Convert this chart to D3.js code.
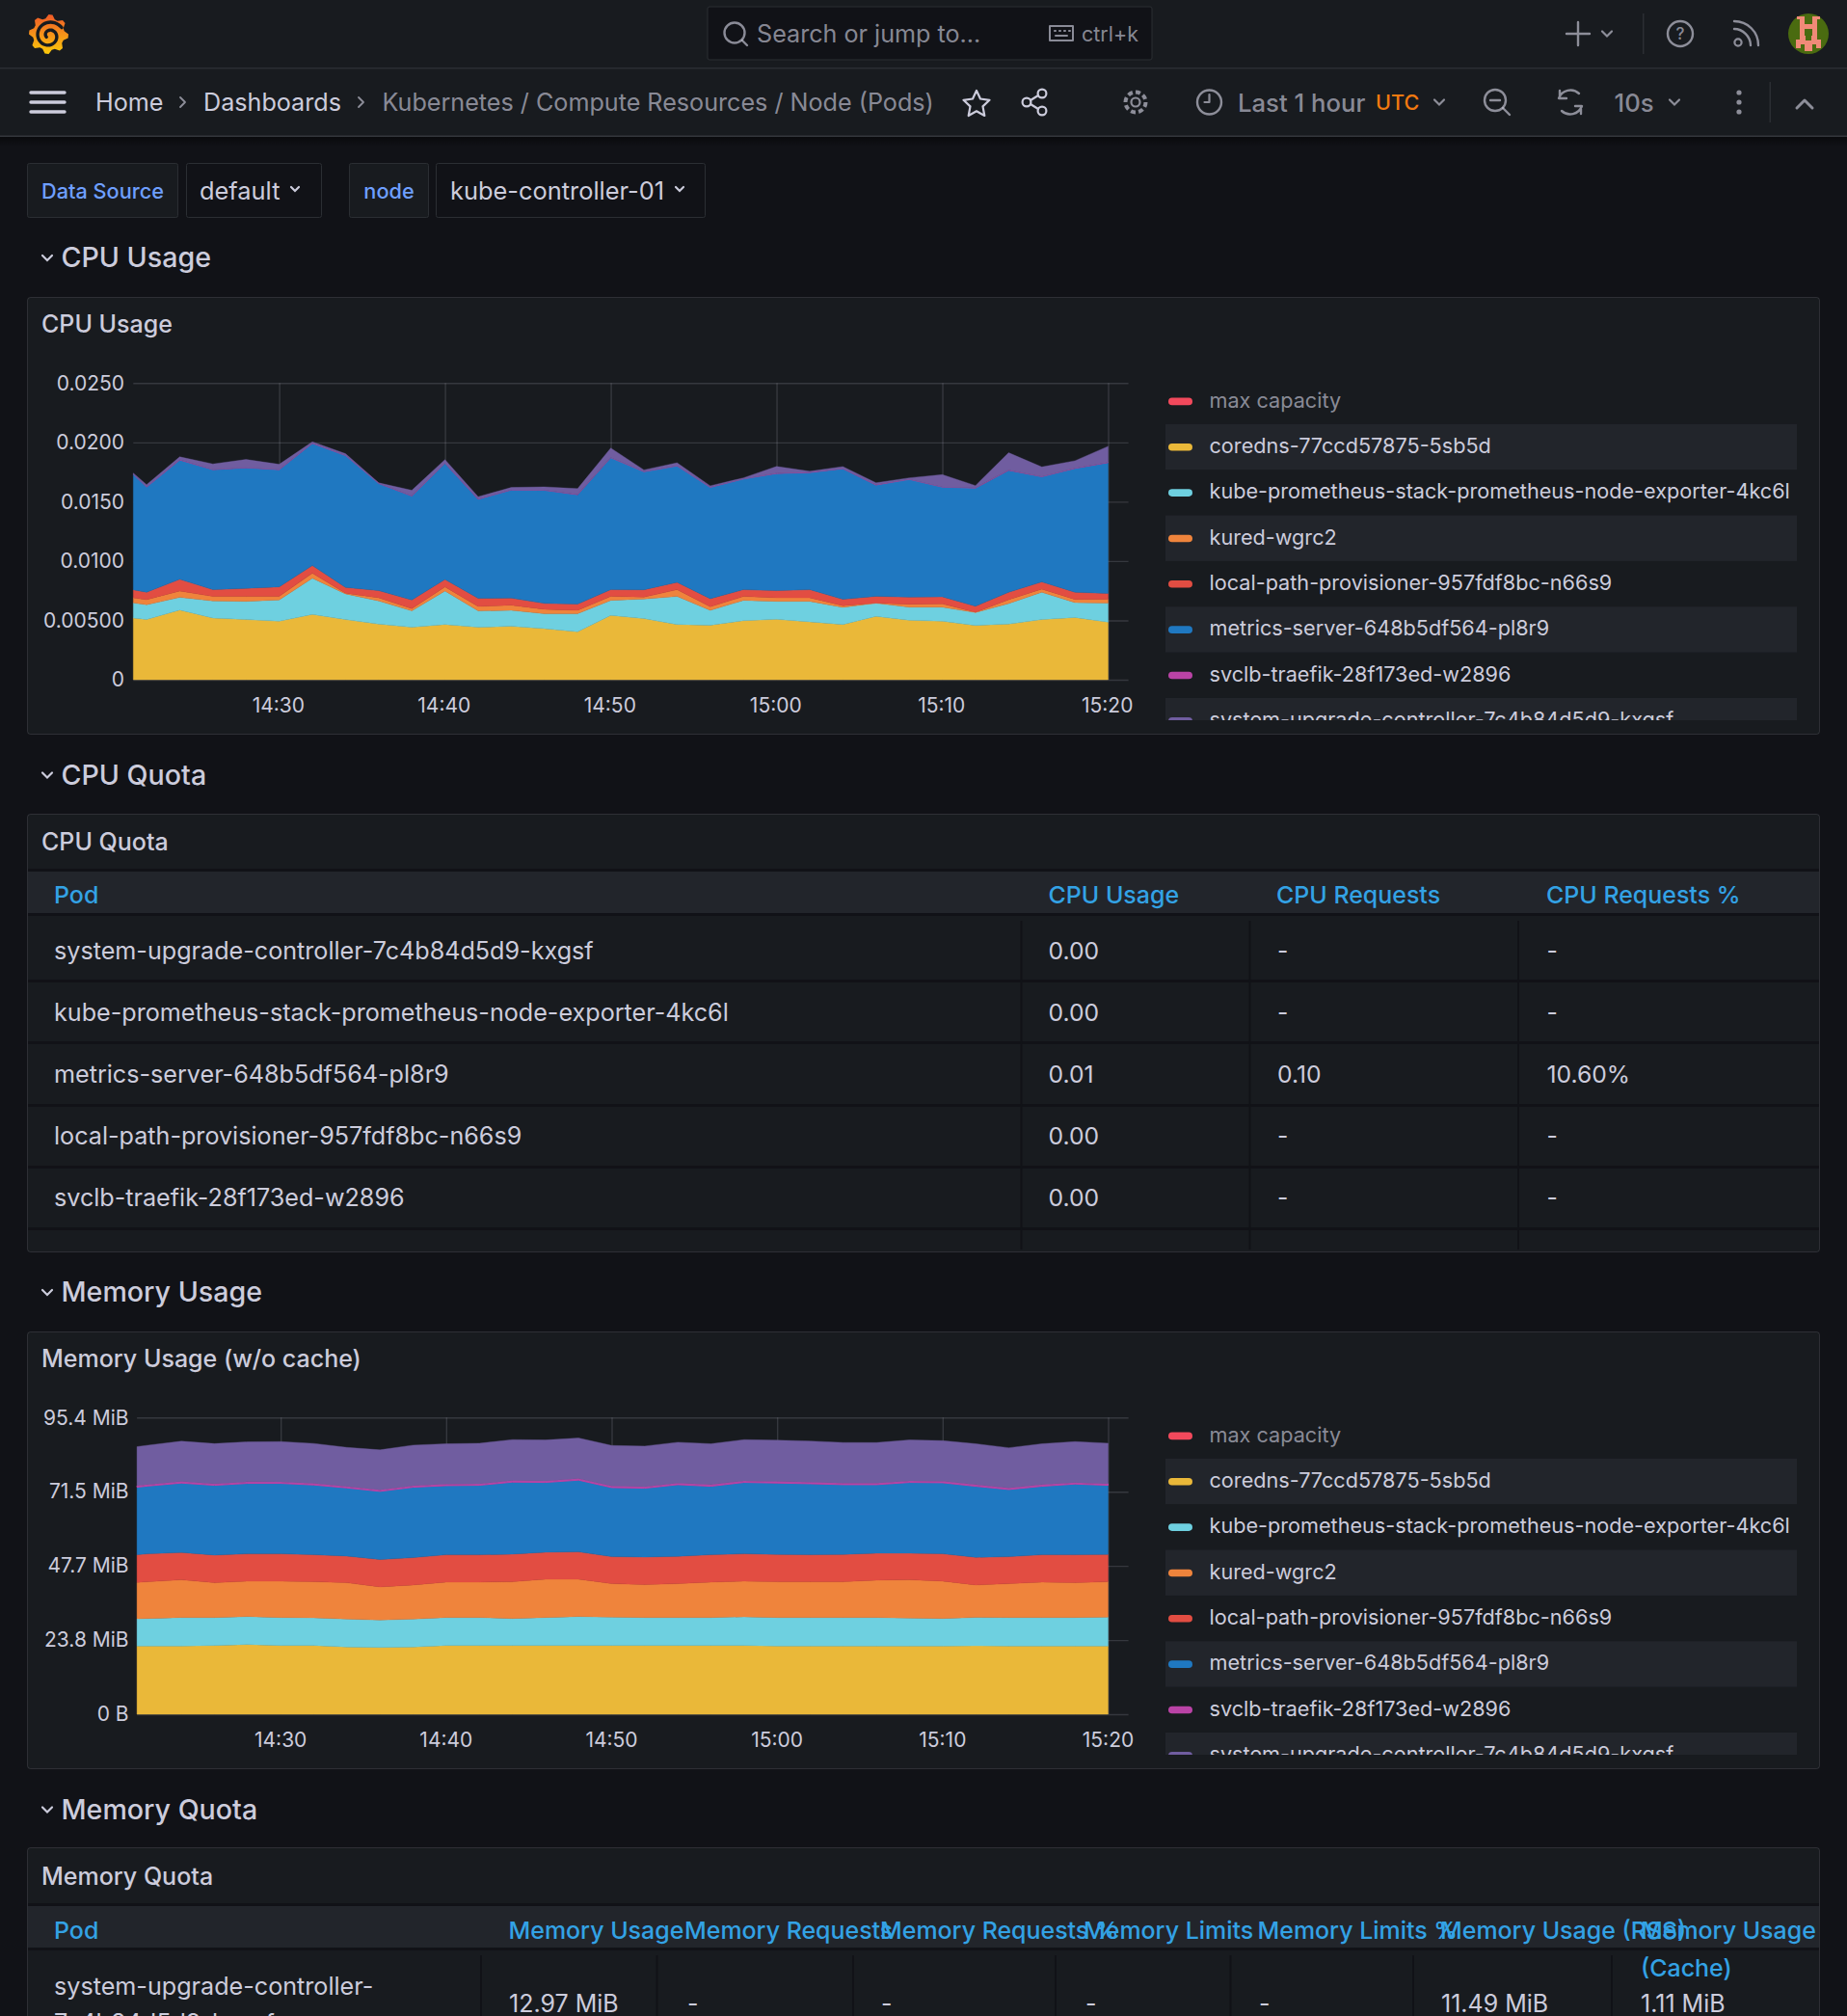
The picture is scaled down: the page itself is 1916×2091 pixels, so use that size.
<!DOCTYPE html>
<html>
<head>
<meta charset="utf-8">
<title>Kubernetes / Compute Resources / Node (Pods)</title>
<script src="https://cdn.jsdelivr.net/npm/d3@7"></script>
<style>
  html, body { margin: 0; padding: 0; background: #111217; overflow: hidden; }
  svg { display: block; font-family: Inter, "Noto Sans", sans-serif; }
</style>
</head>
<body>
<svg id="page"></svg>
<script>
// ---- data ----
var legendNames = ["max capacity", "coredns-77ccd57875-5sb5d", "kube-prometheus-stack-prometheus-node-exporter-4kc6l",
    "kured-wgrc2", "local-path-provisioner-957fdf8bc-n66s9", "metrics-server-648b5df564-pl8r9",
    "svclb-traefik-28f173ed-w2896", "system-upgrade-controller-7c4b84d5d9-kxgsf"];
var legendColors = ["#f2495c", "#eab839", "#6ed0e0", "#ef843c", "#e24d42", "#1f78c1", "#ba43a6", "#705da0"];

var sharedTimes = ["14:22:00", "14:24:00", "14:26:00", "14:28:00", "14:30:00", "14:32:00", "14:34:00", "14:36:00",
    "14:38:00", "14:40:00", "14:42:00", "14:44:00", "14:46:00", "14:48:00", "14:50:00", "14:52:00", "14:54:00",
    "14:56:00", "14:58:00", "15:00:00", "15:02:00", "15:04:00", "15:06:00", "15:08:00", "15:10:00", "15:12:00",
    "15:14:00", "15:16:00", "15:18:00", "15:20:00"];
var cpuStart = "14:21:12";
var memStart = "14:21:19";
var xTickTimes = ["14:30:00", "14:40:00", "14:50:00", "15:00:00", "15:10:00", "15:20:00"];

var cpuCoredns = [.00520,.00507,.00588,.00520,.00507,.00493,.00550,.00507,.00469,.00442,.00466,.00442,.00450,.00431,.00404,.00542,.00515,.00466,.00460,.00498,.00509,.00488,.00466,.00534,.00501,.00493,.00458,.00469,.00507,.00525,.00485];
var cpuExporter = [.00127,.00125,.00106,.00144,.00154,.00179,.00306,.00217,.00195,.00138,.00282,.00138,.00135,.00125,.00152,.00127,.00165,.00236,.00125,.00171,.00152,.00173,.00144,.00111,.00111,.00119,.00108,.00173,.00230,.00125,.00160];
var cpuKured = [.00043,.00043,.00054,.00038,.00041,.00030,.00041,.00005,.00027,.00019,.00035,.00038,.00043,.00038,.00030,.00033,.00016,.00057,.00030,.00033,.00030,.00030,.00014,.00001,.00024,.00027,.00003,.00033,.00027,.00027,.00033];
var cpuLocalPath = [.00068,.00062,.00098,.00057,.00068,.00081,.00065,.00049,.00060,.00073,.00062,.00068,.00060,.00049,.00051,.00057,.00062,.00062,.00068,.00057,.00060,.00068,.00054,.00057,.00060,.00060,.00051,.00062,.00060,.00060,.00049];
var cpuMetrics = [.00972,.00886,.01005,.01010,.01016,.00986,.01029,.01111,.00902,.00875,.00978,.00834,.00910,.00953,.00921,.01111,.00994,.00980,.00937,.00932,.00986,.00986,.01100,.00937,.00991,.00924,.00994,.01027,.00886,.01043,.01102];
var cpuSvclb = [.00003,.00002,.00003,.00003,.00002,.00003,.00003,.00002,.00003,.00003,.00002,.00003,.00003,.00002,.00003,.00003,.00002,.00003,.00003,.00002,.00003,.00003,.00002,.00003,.00003,.00002,.00003,.00003,.00002,.00003,.00003];
var cpuUpgrade = [.00008,.00019,.00024,.00046,.00068,.00043,.00011,.00014,.00003,.00046,.00030,.00019,.00019,.00027,.00049,.00079,.00014,.00024,.00011,.00008,.00057,.00008,.00016,.00016,.00011,.00103,.00019,.00146,.00081,.00062,.00135];

var memCoredns = [21.91,21.91,21.91,22.12,22.43,22.12,22.12,21.60,21.50,21.60,22.12,22.12,22.12,22.12,22.12,22.12,22.12,22.12,22.12,22.12,21.91,21.91,21.91,21.91,21.91,21.91,22.02,21.91,21.91,21.91,21.91];
var memExporter = [8.79,8.89,9.20,8.99,8.99,8.99,8.89,8.99,8.79,8.99,8.99,8.99,8.68,8.99,9.30,9.10,8.99,8.99,8.99,9.20,9.20,9.20,9.20,9.20,8.99,8.89,9.10,9.20,9.20,9.20,9.30];
var memKured = [11.68,11.78,12.09,11.16,11.37,11.68,11.58,11.68,10.65,10.96,11.37,11.37,11.78,12.30,11.99,10.75,10.54,10.85,11.37,11.47,11.47,11.47,11.47,11.99,12.30,11.99,10.44,10.85,11.37,11.16,11.37];
var memLocalPath = [8.89,8.99,8.79,8.89,8.79,8.79,8.68,8.58,8.79,8.79,8.79,8.79,8.89,8.68,8.79,8.68,8.89,8.79,8.79,8.79,8.79,8.68,8.79,8.68,8.58,8.79,8.89,8.68,8.79,8.99,8.79];
var memMetrics = [21.71,21.81,22.33,22.43,22.64,22.64,22.43,21.91,21.91,22.64,22.22,22.33,23.15,22.43,23.05,22.22,22.12,23.05,22.02,22.95,22.95,22.84,22.43,22.02,22.74,22.84,22.84,21.60,22.02,22.74,22.22];
var memSvclb = [.52,.50,.52,.47,.52,.50,.52,.50,.52,.50,.52,.47,.52,.50,.52,.50,.52,.50,.52,.50,.52,.50,.52,.50,.52,.50,.52,.50,.52,.50,.52];
var memUpgrade = [12.51,12.61,12.92,12.92,12.82,12.92,12.82,12.51,12.82,13.02,12.92,13.02,13.13,13.13,13.02,13.02,13.02,13.13,13.13,13.23,13.23,13.23,13.02,13.02,13.13,13.02,13.13,12.92,13.13,13.13,13.02];

var cpuTickValues = [0, 0.005, 0.01, 0.015, 0.02, 0.025];
var cpuTickLabels = ["0", "0.00500", "0.0100", "0.0150", "0.0200", "0.0250"];
var memTickValues = [0, 23.84, 47.68, 71.53, 95.37];
var memTickLabels = ["0 B", "23.8 MiB", "47.7 MiB", "71.5 MiB", "95.4 MiB"];

var cpuQuotaHeaders = ["Pod", "CPU Usage", "CPU Requests", "CPU Requests %"];
var cpuQuotaPods = ["system-upgrade-controller-7c4b84d5d9-kxgsf", "kube-prometheus-stack-prometheus-node-exporter-4kc6l",
    "metrics-server-648b5df564-pl8r9", "local-path-provisioner-957fdf8bc-n66s9", "svclb-traefik-28f173ed-w2896"];
var cpuQuotaUsage = ["0.00", "0.00", "0.01", "0.00", "0.00"];
var cpuQuotaRequests = ["-", "-", "0.10", "-", "-"];
var cpuQuotaPercent = ["-", "-", "10.60%", "-", "-"];

var memQuotaHeaders = ["Pod", "Memory Usage", "Memory Requests", "Memory Requests %", "Memory Limits", "Memory Limits %", "Memory Usage (RSS)"];
var memQuotaValues = ["12.97 MiB", "-", "-", "-", "-", "11.49 MiB", "1.11 MiB"];

// ---- page ----
var W = 1916, H = 2091;
var fs = 25.15; // body text
var headFs = 24.95; // table headers
var cText = "#ccccdc", cDim = "rgba(204,204,220,0.65)", cPanel = "#181b1f", cCanvas = "#111217",
    cLine = "rgba(204,204,220,0.14)", cHead = "#22252b", cLink = "#33a2e5";

var svg = d3.select("#page").attr("width", W).attr("height", H);
var defs = svg.append("defs");

svg.append("rect").attr("width", W).attr("height", H).attr("fill", cCanvas);

function label(g, x, y, str, size, fill, weight, anchor) {
    return g.append("text").attr("x", x).attr("y", y)
        .attr("dominant-baseline", "central")
        .attr("font-size", size)
        .attr("font-weight", weight || 400)
        .attr("text-anchor", anchor || "start")
        .attr("fill", fill || cText)
        .text(str);
}
function box(g, x, y, w, h, fill, stroke, r) {
    return g.append("rect").attr("x", x).attr("y", y).attr("width", w).attr("height", h)
        .attr("rx", r || 0).attr("fill", fill).attr("stroke", stroke || "none");
}
function chevron(g, x, y, s, color) {
    g.append("path").attr("d", "M" + (x - s) + "," + (y - s * 0.5) + "L" + x + "," + (y + s * 0.5) + "L" + (x + s) + "," + (y - s * 0.5))
        .attr("fill", "none").attr("stroke", color || cDim).attr("stroke-width", 2.2).attr("stroke-linecap", "round");
}
function icon(g, d, color, w) {
    return g.append("path").attr("d", d).attr("fill", "none").attr("stroke", color || cDim)
        .attr("stroke-width", w || 2.4).attr("stroke-linecap", "round").attr("stroke-linejoin", "round");
}
function ring(g, x, y, r, color, w) {
    return g.append("circle").attr("cx", x).attr("cy", y).attr("r", r).attr("fill", "none")
        .attr("stroke", color || cDim).attr("stroke-width", w || 2.4);
}

// top bars
var nav = svg.append("g");
var navShadow = defs.append("linearGradient").attr("id", "navShadow").attr("x1", 0).attr("y1", 0).attr("x2", 0).attr("y2", 1);
navShadow.append("stop").attr("offset", 0).attr("stop-color", "#000").attr("stop-opacity", 0.45);
navShadow.append("stop").attr("offset", 1).attr("stop-color", "#000").attr("stop-opacity", 0);
box(nav, 0, 142, W, 10, "url(#navShadow)");
box(nav, 0, 0, W, 141, cPanel);
box(nav, 0, 70, W, 1.5, "#2b2e33");
box(nav, 0, 140.5, W, 1.5, "#34373c");

// grafana logo: gear with a spiral in it
var logoGrad = defs.append("linearGradient").attr("id", "logoGrad").attr("x1", 0).attr("y1", 0).attr("x2", 0).attr("y2", 1);
logoGrad.append("stop").attr("offset", 0).attr("stop-color", "#f05a28");
logoGrad.append("stop").attr("offset", 1).attr("stop-color", "#fbca0a");
var gearPts = d3.range(0, 32).map(function (i) {
    return [i / 32 * 2 * Math.PI, (i % 4 < 2) ? 20.5 : 16.5];
});
nav.append("path").attr("transform", "translate(50.5,35.5)")
    .attr("d", d3.lineRadial().curve(d3.curveLinearClosed)(gearPts)).attr("fill", "url(#logoGrad)");
var spiralPts = d3.range(0, 32).map(function (i) { return [1.0 - i * 0.3, 15.5 - i * 0.4]; });
nav.append("path").attr("transform", "translate(51,37)")
    .attr("d", d3.lineRadial().curve(d3.curveBasis)(spiralPts))
    .attr("fill", "none").attr("stroke", cPanel).attr("stroke-width", 3.4).attr("stroke-linecap", "round");

// search box
box(nav, 734, 7, 461, 55, cCanvas, "#2b2e33", 2);
ring(nav, 762, 34, 10.5);
icon(nav, "M770,42l5,5");
label(nav, 785, 35, "Search or jump to...", fs, cDim);
icon(nav, "M1089,27h24v15h-24zM1094,32h1M1099,32h1M1104,32h1M1109,32h1M1095,37h12", cDim, 2);
label(nav, 1122, 35, "ctrl+k", 21.5, cDim);

// right icons, first row
icon(nav, "M1637,23v24M1625,35h24");
chevron(nav, 1667, 35, 5);
box(nav, 1704, 14, 1.5, 42, "#2b2e33");
ring(nav, 1743, 35, 13);
label(nav, 1743, 35, "?", 17, cDim, 500, "middle");
icon(nav, "M1799,30c9,0 17,8 17,17M1799,22c14,0 25,11 25,25");
ring(nav, 1803, 44, 3.6, cDim, 2.2);
// avatar
nav.append("circle").attr("cx", 1876).attr("cy", 35).attr("r", 21).attr("fill", "#4a6b10");
var avatarCells = [[-9,-18,5,27],[4,-18,5,27],[-4,-10,8,5],[-12,-18,3,3],[9,-18,3,3],[-9,2,18,9],[-4,11,8,7],[-13,6,5,9],[8,6,5,9]];
avatarCells.forEach(function (c) { box(nav, 1876 + c[0], 35 + c[1], c[2], c[3], "#f08a78"); });
box(nav, 1873, 36, 6, 6, "#4a6b10");

// breadcrumb row
icon(nav, "M32,96h35M32,106h35M32,116h35", "#ccccdc", 3.4);
label(nav, 99, 106, "Home", fs, cText);
icon(nav, "M187,101l5,5l-5,5", cDim, 1.8);
label(nav, 211, 106, "Dashboards", fs, cText);
icon(nav, "M372,101l5,5l-5,5", cDim, 1.8);
label(nav, 396.5, 106, "Kubernetes / Compute Resources / Node (Pods)", fs, cDim);

icon(nav, "M1013,94l4,8.5l9.5,1.3l-7,6.6l1.8,9.6l-8.3,-4.7l-8.3,4.7l1.8,-9.6l-7,-6.6l9.5,-1.3z", cText, 2.2);
[[1065, 106], [1081, 97], [1081, 115]].forEach(function (c) { ring(nav, c[0], c[1], 4.4, cText, 2.2); });
icon(nav, "M1069,104l8,-5M1069,108l8,5", cText, 2.2);

ring(nav, 1178, 106, 4.5, cDim, 2.2);
ring(nav, 1178, 106, 10.5, cDim, 4).attr("stroke-dasharray", "5 3.2");
ring(nav, 1254.5, 106, 12.5);
icon(nav, "M1254.5,98v8h-5", cDim, 2.2);
label(nav, 1284, 106, "Last 1 hour", 25.7, cDim, 500);
label(nav, 1427, 106, "UTC", 21.6, "#f2790f", 500);
chevron(nav, 1493, 106, 5);
ring(nav, 1551, 104, 11);
icon(nav, "M1546,104h10M1559,112l7,7");
icon(nav, "M1638,97a13,13 0 0,0 -21,5M1620,115a13,13 0 0,0 21,-5M1618,94v8h7M1640,118v-8h-6");
label(nav, 1674.5, 106, "10s", 25.7, cDim, 500);
chevron(nav, 1737, 106, 5);
[96, 106, 116].forEach(function (y) { nav.append("circle").attr("cx", 1804).attr("cy", y).attr("r", 2.6).attr("fill", cDim); });
box(nav, 1835.5, 85, 1.5, 42, "#2b2e33");
icon(nav, "M1864,112l8,-8l8,8", cDim, 3);

// template variables
var vars = svg.append("g");
box(vars, 28.5, 169.5, 156, 56, cPanel, "#2b2e33", 2);
label(vars, 106.5, 198, "Data Source", 21.7, "#6e9fff", 500, "middle");
box(vars, 193.5, 169.5, 140, 56, cCanvas, "#2b2e33", 2);
label(vars, 207, 197.5, "default", 25.4, cText);
chevron(vars, 306, 196, 4, cText);
box(vars, 362.5, 169.5, 82, 56, cPanel, "#2b2e33", 2);
label(vars, 403.5, 198, "node", 21.7, "#6e9fff", 500, "middle");
box(vars, 452.5, 169.5, 279, 56, cCanvas, "#2b2e33", 2);
label(vars, 467, 197.5, "kube-controller-01", 25.4, cText);
chevron(vars, 705, 196, 4, cText);

function section(y, title) {
    var g = svg.append("g");
    chevron(g, 49, y + 1, 5, cText);
    label(g, 63.5, y, title, 28.6, cText, 500);
}
section(266.5, "CPU Usage");
section(803, "CPU Quota");
section(1339.5, "Memory Usage");
section(1876, "Memory Quota");

// shared panel frame
function panel(y, h, title, titleDy) {
    var g = svg.append("g");
    box(g, 28.5, y + 0.5, 1859, h, cPanel, cLine, 3);
    label(g, 43, y + titleDy, title, 25, cText, 500);
    return g;
}

var parseT = d3.utcParse("%H:%M:%S");
var podKeys = ["coredns", "exporter", "kured", "localPath", "metrics", "svclb", "upgrade"];

function timeseries(opt) {
    var g = panel(opt.panelY, 453, opt.title, 27.5);
    var times = [opt.start].concat(sharedTimes).map(parseT);
    var x = d3.scaleUtc().domain([times[0], times[times.length - 1]]).range([opt.left, 1149.5]);
    var y = d3.scaleLinear().domain([0, opt.maxY]).range([opt.bottom, opt.top]);

    var rows = times.map(function (t, i) {
        var row = { time: t };
        podKeys.forEach(function (k, j) { row[k] = opt.series[j][i]; });
        return row;
    });
    var stacked = d3.stack().keys(podKeys)(rows);

    // x axis doubles as the vertical grid, y axis as the horizontal grid
    var xAxis = g.append("g").attr("transform", "translate(0," + opt.bottom + ")")
        .call(d3.axisBottom(x).tickValues(xTickTimes.map(parseT)).tickFormat(d3.utcFormat("%H:%M"))
            .tickSize(-(opt.bottom - opt.top)).tickPadding(19));
    var yAxis = g.append("g").attr("transform", "translate(" + opt.left + ",0)")
        .call(d3.axisLeft(y).tickValues(opt.tickValues).tickFormat(function (d, i) { return opt.tickLabels[i]; })
            .tickSize(-(1170.6 - opt.left)).tickPadding(opt.labelGap));
    [xAxis, yAxis].forEach(function (a) {
        a.select(".domain").remove();
        a.selectAll("line").attr("stroke", "rgba(204,204,220,0.17)").attr("stroke-width", 1.4);
        a.selectAll("text").attr("fill", cText).attr("font-size", 21).attr("font-family", "Inter");
    });
    xAxis.selectAll("text").attr("dx", opt.labelShift);

    var area = d3.area().x(function (d) { return x(d.data.time); })
        .y0(function (d) { return y(d[0]); }).y1(function (d) { return y(d[1]); });
    g.selectAll("path.area").data(stacked).enter().append("path").attr("class", "area")
        .attr("d", area)
        .attr("fill", function (d, i) { return legendColors[i + 1]; })
        .attr("stroke", function (d, i) { return legendColors[i + 1]; })
        .attr("stroke-width", function (d, i) { return i == 5 ? opt.svclbStroke : 0.4; });

    // legend, last row is cut off by the scroll area
    var clipId = "legendClip" + opt.panelY;
    defs.append("clipPath").attr("id", clipId).append("rect")
        .attr("x", 1209).attr("y", opt.panelY + 85).attr("width", 655).attr("height", 354);
    var lg = g.append("g").attr("clip-path", "url(#" + clipId + ")");
    legendNames.forEach(function (name, i) {
        var cy = opt.panelY + 108.2 + i * 47.35;
        if (i % 2 == 1) box(lg, 1209, cy - 23.7, 655, 47.35, "#22252b");
        box(lg, 1212, cy - 3.6, 25, 7.6, legendColors[i], null, 3.8);
        label(lg, 1254.5, cy - 1.5, name, 21.65, i == 0 ? cDim : cText);
    });
}

timeseries({
    panelY: 308, title: "CPU Usage", start: cpuStart, left: 138.3, top: 397.3, bottom: 705, maxY: 0.025,
    tickValues: cpuTickValues, tickLabels: cpuTickLabels, labelGap: 9.3, labelShift: -1.3, svclbStroke: 0.4,
    series: [cpuCoredns, cpuExporter, cpuKured, cpuLocalPath, cpuMetrics, cpuSvclb, cpuUpgrade]
});
timeseries({
    panelY: 1381, title: "Memory Usage (w/o cache)", start: memStart, left: 142.1, top: 1470.3, bottom: 1778, maxY: 95.37,
    tickValues: memTickValues, tickLabels: memTickLabels, labelGap: 8.5, labelShift: -0.5, svclbStroke: 1,
    series: [memCoredns, memExporter, memKured, memLocalPath, memMetrics, memSvclb, memUpgrade]
});

// CPU quota table
var cpuTable = panel(844, 454, "CPU Quota", 28.5);
box(cpuTable, 29, 901, 1858, 3, cCanvas);
box(cpuTable, 29, 904, 1858, 43, cHead);
box(cpuTable, 29, 947, 1858, 3, cCanvas);
var cpuHeadX = [56, 1087.5, 1324, 1604];
var cpuCellX = [56, 1087.5, 1325, 1604.5];
var cpuSepX = [1059.5, 1296.5, 1575];
var cpuRowY = [986, 1050, 1114, 1178, 1242];
var cpuStripeY = [1016, 1080, 1145, 1209, 1273];
cpuStripeY.forEach(function (y) { box(cpuTable, 29, y, 1858, 3, cCanvas); });
cpuSepX.forEach(function (x) { box(cpuTable, x - 1, 955, 2, 341, cCanvas); });
cpuQuotaHeaders.forEach(function (h, i) { label(cpuTable, cpuHeadX[i], 928, h, headFs, cLink, 500); });
cpuQuotaPods.forEach(function (pod, i) {
    label(cpuTable, cpuCellX[0], cpuRowY[i], pod, fs);
    label(cpuTable, cpuCellX[1], cpuRowY[i], cpuQuotaUsage[i], 24.7);
    label(cpuTable, cpuCellX[2], cpuRowY[i], cpuQuotaRequests[i], 24.7);
    label(cpuTable, cpuCellX[3], cpuRowY[i], cpuQuotaPercent[i], 24.7);
});

// memory quota table, runs off the bottom of the page
var memTable = panel(1916, 300, "Memory Quota", 29.5);
box(memTable, 29, 1974, 1858, 3, cCanvas);
box(memTable, 29, 1977, 1858, 43, cHead);
box(memTable, 29, 2020, 1858, 3, cCanvas);
var memHeadX = [56, 527.5, 710, 913, 1124, 1304.5, 1494];
var memSepX = [499, 681.5, 885, 1095, 1276.5, 1466, 1672];
var memCellX = [528, 713, 914, 1126, 1306, 1495, 1702];
memSepX.forEach(function (x) { box(memTable, x - 1, 2028, 2, 70, cCanvas); });
memQuotaHeaders.forEach(function (h, i) { label(memTable, memHeadX[i], 2001.5, h, headFs, cLink, 500); });
label(memTable, 1702, 2001.5, "Memory Usage", headFs, cLink, 500);
label(memTable, 1702, 2040.5, "(Cache)", headFs, cLink, 500);
label(memTable, 56, 2059.5, "system-upgrade-controller-", fs);
label(memTable, 56, 2098, "7c4b84d5d9-kxgsf", fs);
memQuotaValues.forEach(function (v, i) { label(memTable, memCellX[i], 2077.5, v, 25); });
</script>
</body>
</html>
